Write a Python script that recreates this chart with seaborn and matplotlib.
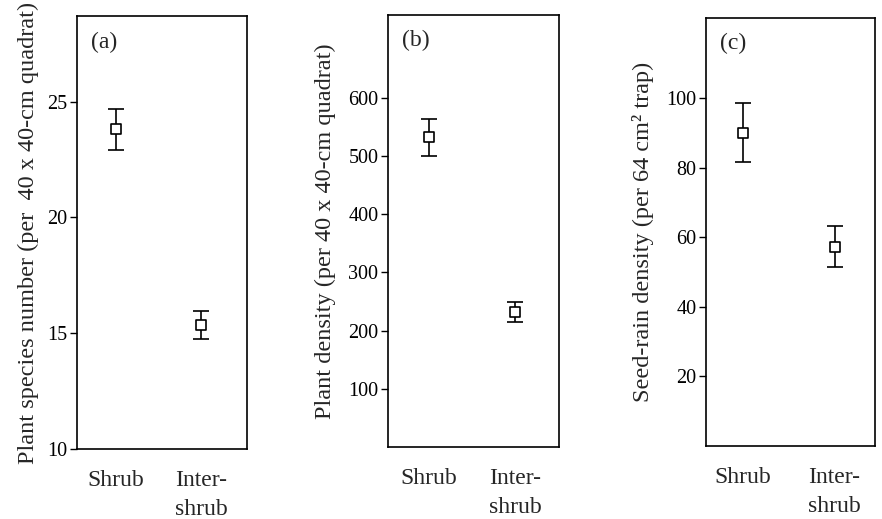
import matplotlib
matplotlib.use("Agg")
import matplotlib.pyplot as plt
import seaborn as sns
import pandas as pd

sns.set_theme(style="white")
plt.rcParams['font.family'] = ['Liberation Serif', 'DejaVu Serif']

categories = ["Shrub", "Inter-\nshrub"]

species_mean = [23.8, 15.35]
species_err = [0.9, 0.6]

density_mean = [532, 232]
density_err = [32, 16.5]

seed_mean = [90, 57.3]
seed_err = [8.5, 6.0]

panels = [
    dict(mean=species_mean, err=species_err, tag="(a)",
         ylabel="Plant species number (per  40 x 40-cm quadrat)",
         ylim=(10, 28.7), yticks=[10, 15, 20, 25],
         pos=[77, 16, 247, 449], lpad=6, xlim=(-0.46, 1.54)),
    dict(mean=density_mean, err=density_err, tag="(b)",
         ylabel="Plant density (per 40 x 40-cm quadrat)",
         ylim=(0, 742), yticks=[100, 200, 300, 400, 500, 600],
         pos=[388, 15, 559, 447], lpad=9, xlim=(-0.47, 1.51)),
    dict(mean=seed_mean, err=seed_err, tag="(c)",
         ylabel="Seed-rain density (per 64 cm² trap)",
         ylim=(0, 123), yticks=[20, 40, 60, 80, 100],
         pos=[706, 18, 875, 446], lpad=9, xlim=(-0.40, 1.44)),
]

W, H = 882, 519
fig = plt.figure(figsize=(W / 100, H / 100), dpi=100)

for p in panels:
    l, t, r, b = p["pos"]
    ax = fig.add_axes([l / W, 1 - b / H, (r - l) / W, (b - t) / H])
    df = pd.DataFrame({"x": [0, 1], "y": p["mean"], "e": p["err"]})
    ax.errorbar(df["x"], df["y"], yerr=df["e"], fmt="none", ecolor="black",
                elinewidth=1.2, capsize=6, capthick=1.2, zorder=2)
    sns.scatterplot(data=df, x="x", y="y", ax=ax, marker="s", s=60,
                    facecolor="white", edgecolor="black", linewidth=1.2,
                    zorder=3, legend=False)
    ax.set_xlim(*p["xlim"])
    ax.set_ylim(*p["ylim"])
    ax.set_yticks(p["yticks"])
    ax.set_yticklabels([str(v) for v in p["yticks"]], fontsize=14.5)
    ax.set_xticks([0, 1])
    ax.set_xticklabels(categories, fontsize=17, linespacing=1.5, va="top")
    ax.tick_params(axis="x", length=0, pad=15)
    ax.tick_params(axis="y", direction="out", length=5, width=1, pad=2,
                   left=True, colors="black")
    ax.set_xlabel("")
    ax.set_ylabel(p["ylabel"], fontsize=17.5, labelpad=p["lpad"])
    for s in ax.spines.values():
        s.set_color("black")
        s.set_linewidth(1.2)
    ax.text(0.08, 0.94, p["tag"], transform=ax.transAxes, fontsize=17,
            ha="left", va="center")

fig.savefig("out.png", dpi=100)
